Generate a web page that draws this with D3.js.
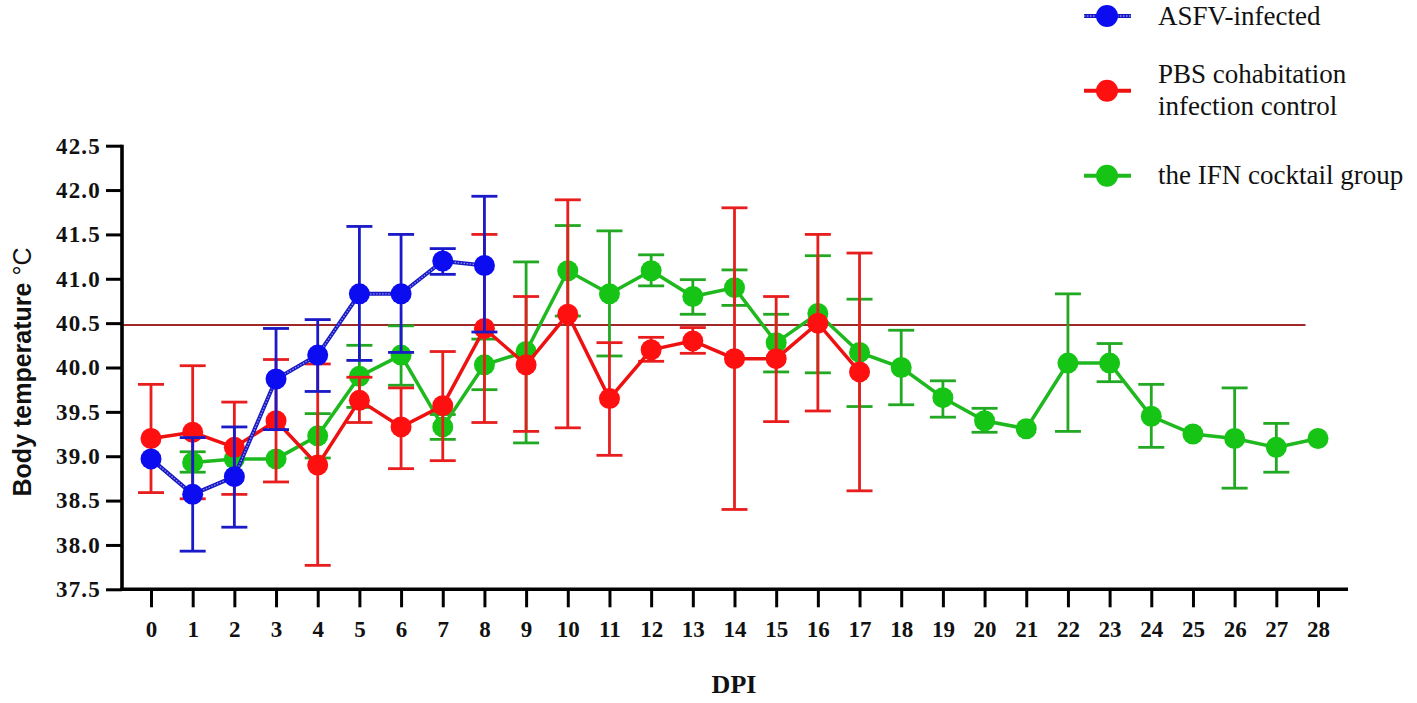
<!DOCTYPE html>
<html><head><meta charset="utf-8">
<script src="https://cdn.jsdelivr.net/npm/d3@7"></script>
<style>
html,body{margin:0;padding:0;background:#fff;}
svg{display:block;}
</style></head>
<body>
<svg id="chart" width="1417" height="703"></svg>
<script>
// ---------- DATA ----------
const yTicks = [37.5,38.0,38.5,39.0,39.5,40.0,40.5,41.0,41.5,42.0,42.5];
const xTicks = d3.range(0,29);
const threshold = 40.48;

const asfvDays  = [0,1,2,3,4,5,6,7,8];
const asfvMean  = [38.97,38.57,38.77,39.87,40.14,40.83,40.83,41.20,41.15];
const asfvHigh  = [null,39.21,39.33,40.44,40.54,41.59,41.50,41.34,41.93];
const asfvLow   = [null,37.93,38.20,39.30,39.73,40.08,40.17,41.05,40.40];

const pbsDays = [0,1,2,3,4,5,6,7,8,9,10,11,12,13,14,15,16,17];
const pbsMean = [39.20,39.27,39.10,39.40,38.90,39.63,39.33,39.57,40.44,40.03,40.60,39.65,40.20,40.30,40.10,40.10,40.50,39.95];
const pbsHigh = [39.81,40.02,39.61,40.09,40.04,39.89,39.77,40.18,41.50,40.80,41.89,40.28,40.34,40.45,41.80,40.80,41.50,41.29];
const pbsLow  = [38.59,38.52,38.57,38.71,37.77,39.38,38.86,38.95,39.38,39.28,39.32,39.01,40.07,40.16,38.40,39.39,39.51,38.61];

const ifnDays = [1,2,3,4,5,6,7,8,9,10,11,12,13,14,15,16,17,18,19,20,21,22,23,24,25,26,27,28];
const ifnMean = [38.93,38.97,38.97,39.23,39.90,40.14,39.33,40.03,40.18,41.09,40.83,41.09,40.80,40.90,40.28,40.61,40.17,40.00,39.66,39.40,39.31,40.05,40.05,39.45,39.25,39.20,39.10,39.20];
const ifnHigh = [39.05,null,null,39.48,40.25,40.47,39.47,40.32,41.19,41.60,41.54,41.27,40.99,41.10,40.60,41.26,40.77,40.42,39.85,39.54,null,40.83,40.27,39.81,null,39.77,39.37,null];
const ifnLow  = [38.82,null,null,38.98,39.55,39.80,39.19,39.75,39.15,40.58,40.13,40.92,40.60,40.70,39.95,39.94,39.56,39.58,39.44,39.27,null,39.28,39.84,39.10,null,38.64,38.82,null];

const legendLabels = [["ASFV-infected"],["PBS cohabitation","infection control"],["the IFN cocktail group"]];

// ---------- CHART ----------
const svg = d3.select("#chart");
const x = d3.scaleLinear().domain([0,28]).range([151,1318]);
const y = d3.scaleLinear().domain([37.5,42.5]).range([589.3,145.7]);
const axisX0 = 122, axisY0 = 589.3;

const series = [
  {name:"ifn", days:ifnDays, mean:ifnMean, hi:ifnHigh, lo:ifnLow, line:"#1fb81f", marker:"#16c416", err:"#22a822"},
  {name:"pbs", days:pbsDays, mean:pbsMean, hi:pbsHigh, lo:pbsLow, line:"#ee1111", marker:"#ff1010", err:"#e81e1e"},
  {name:"asfv", days:asfvDays, mean:asfvMean, hi:asfvHigh, lo:asfvLow, line:"#1818c0", marker:"#0c0cf0", err:"#1a1ac8"}
];

// threshold line
svg.append("line")
  .attr("x1", axisX0).attr("x2", x(27.7))
  .attr("y1", y(threshold)).attr("y2", y(threshold))
  .attr("stroke","#a02828").attr("stroke-width",2);

const lineGen = d3.line().x(d=>x(d.d)).y(d=>y(d.m));

series.forEach(s=>{
  const pts = s.days.map((d,i)=>({d, m:s.mean[i], hi:s.hi[i], lo:s.lo[i]}));
  const g = svg.append("g");
  pts.filter(p=>p.hi!=null).forEach(p=>{
    g.append("line").attr("x1",x(p.d)).attr("x2",x(p.d)).attr("y1",y(p.hi)).attr("y2",y(p.lo))
      .attr("stroke",s.err).attr("stroke-width",2.8);
    [p.hi,p.lo].forEach(v=>{
      g.append("line").attr("x1",x(p.d)-13).attr("x2",x(p.d)+13).attr("y1",y(v)).attr("y2",y(v))
        .attr("stroke",s.err).attr("stroke-width",2.8);
    });
  });
  g.append("path").datum(pts).attr("d",lineGen).attr("fill","none")
    .attr("stroke",s.line).attr("stroke-width", s.name==="asfv"?4:3.5);
  if(s.name==="asfv"){
    g.append("path").datum(pts).attr("d",lineGen).attr("fill","none")
      .attr("stroke","#8a8aff").attr("stroke-width",1.4).attr("stroke-dasharray","1.5,1.5");
  }
  g.selectAll("circle").data(pts).join("circle")
    .attr("cx",p=>x(p.d)).attr("cy",p=>y(p.m)).attr("r",10.5).attr("fill",s.marker);
});

// axes
const yAxis = d3.axisLeft(y).tickValues(yTicks).tickFormat(d3.format(".1f")).tickSize(16).tickPadding(5).tickSizeOuter(0);
const gy = svg.append("g").attr("transform",`translate(${axisX0},0)`).call(yAxis);
gy.select(".domain").remove();
gy.selectAll(".tick line").attr("stroke","#000").attr("stroke-width",3);
gy.selectAll(".tick text").attr("font-family","'Liberation Serif','Times New Roman',serif")
  .attr("font-weight","bold").attr("font-size",23).attr("letter-spacing","1.2px").attr("fill","#111");

const xAxis = d3.axisBottom(x).tickValues(xTicks).tickFormat(d3.format("d")).tickSize(18).tickPadding(13).tickSizeOuter(0);
const gx = svg.append("g").attr("transform",`translate(0,${axisY0})`).call(xAxis);
gx.select(".domain").remove();
gx.selectAll(".tick line").attr("stroke","#000").attr("stroke-width",3);
gx.selectAll(".tick text").attr("font-family","'Liberation Serif','Times New Roman',serif")
  .attr("font-weight","bold").attr("font-size",23).attr("fill","#111");

svg.append("line").attr("x1",axisX0).attr("x2",axisX0).attr("y1",y(42.5)-1).attr("y2",axisY0+1.8)
  .attr("stroke","#000").attr("stroke-width",3.6);
svg.append("line").attr("x1",axisX0-1.8).attr("x2",1348).attr("y1",axisY0).attr("y2",axisY0)
  .attr("stroke","#000").attr("stroke-width",3.6);

// axis titles
const yt = svg.append("text").attr("transform",`translate(31,372) rotate(-90)`)
  .attr("text-anchor","middle").attr("font-family","'Liberation Sans',Arial,sans-serif")
  .attr("font-size",25).attr("fill","#111");
yt.append("tspan").attr("font-weight","bold").text("Body temperature ");
yt.append("tspan").text("°C");

svg.append("text").attr("x",734).attr("y",693).attr("text-anchor","middle")
  .attr("font-family","'Liberation Serif','Times New Roman',serif").attr("font-weight","bold")
  .attr("font-size",26).attr("fill","#111").text("DPI");

// legend
const legY = [16, 90.7, 175.7];
const legTextY = [[25],[83.3,115],[184]];
const legSeries = [series[2], series[1], series[0]];
legSeries.forEach((s,i)=>{
  const g = svg.append("g");
  g.append("line").attr("x1",1084).attr("x2",1131).attr("y1",legY[i]).attr("y2",legY[i])
    .attr("stroke",s.line).attr("stroke-width",4);
  if(s.name==="asfv"){
    g.append("line").attr("x1",1084).attr("x2",1131).attr("y1",legY[i]).attr("y2",legY[i])
      .attr("stroke","#8a8aff").attr("stroke-width",1.4).attr("stroke-dasharray","1.5,1.5");
  }
  g.append("circle").attr("cx",1107).attr("cy",legY[i]).attr("r",11).attr("fill",s.marker);
  legendLabels[i].forEach((t,j)=>{
    g.append("text").attr("x",1158).attr("y",legTextY[i][j])
      .attr("font-family","'Liberation Serif','Times New Roman',serif")
      .attr("font-size",27).attr("fill","#111").text(t);
  });
});
</script>
</body></html>
